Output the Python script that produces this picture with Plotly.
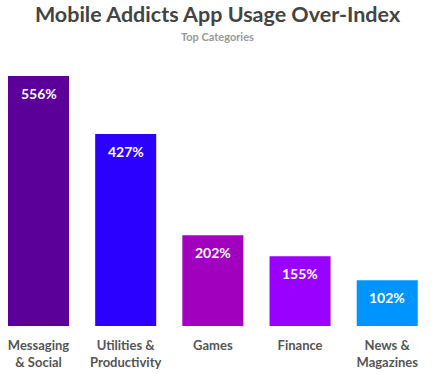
import plotly.graph_objects as go

categories = ["Messaging<br>& Social", "Utilities &<br>Productivity", "Games", "Finance", "News &<br>Magazines"]
values = [556, 427, 202, 155, 102]
labels = ["556%", "427%", "202%", "155%", "102%"]
colors = ["#5B0099", "#2B00FF", "#A100BF", "#9A00FF", "#0094FF"]

FONT = "Lato"

fig = go.Figure()
fig.add_trace(go.Bar(
    x=list(range(len(categories))),
    y=values,
    marker=dict(color=colors, line=dict(width=0)),
    width=0.7,
    hoverinfo="skip",
))

for i, (v, t) in enumerate(zip(values, labels)):
    fig.add_annotation(x=i, y=v, text="<b>" + t + "</b>", showarrow=False,
                       yanchor="middle", yshift=-17,
                       font=dict(family=FONT, size=14, color="white"))

fig.update_layout(
    width=435, height=374,
    margin=dict(l=0, r=0, t=70, b=48, autoexpand=False),
    paper_bgcolor="white", plot_bgcolor="white",
    showlegend=False,
    title=dict(text="<b>Mobile Addicts App Usage Over-Index</b>", x=0.5, xanchor="center",
               y=1 - 14 / 374, yanchor="middle", yref="container",
               font=dict(family=FONT, size=21.5, color="#444444")),
    xaxis=dict(range=[-0.4417, 4.548], tickmode="array", tickvals=list(range(len(categories))),
               ticktext=["<b>" + c + "</b>" for c in categories],
               showgrid=False, zeroline=False, showline=False, automargin=False,
               ticks="outside", ticklen=7, tickcolor="rgba(0,0,0,0)",
               tickfont=dict(family=FONT, size=13, color="#555555")),
    yaxis=dict(range=[0, 569.4], visible=False, automargin=False),
)
fig.add_annotation(text="<b>Top Categories</b>", xref="paper", yref="paper", x=0.5,
                   y=1 + (70 - 36) / 256, yanchor="middle", showarrow=False,
                   font=dict(family=FONT, size=11, color="#999999"))

fig.write_html("out.html", config={"displayModeBar": False},
               post_script="document.body.style.margin='0';")
